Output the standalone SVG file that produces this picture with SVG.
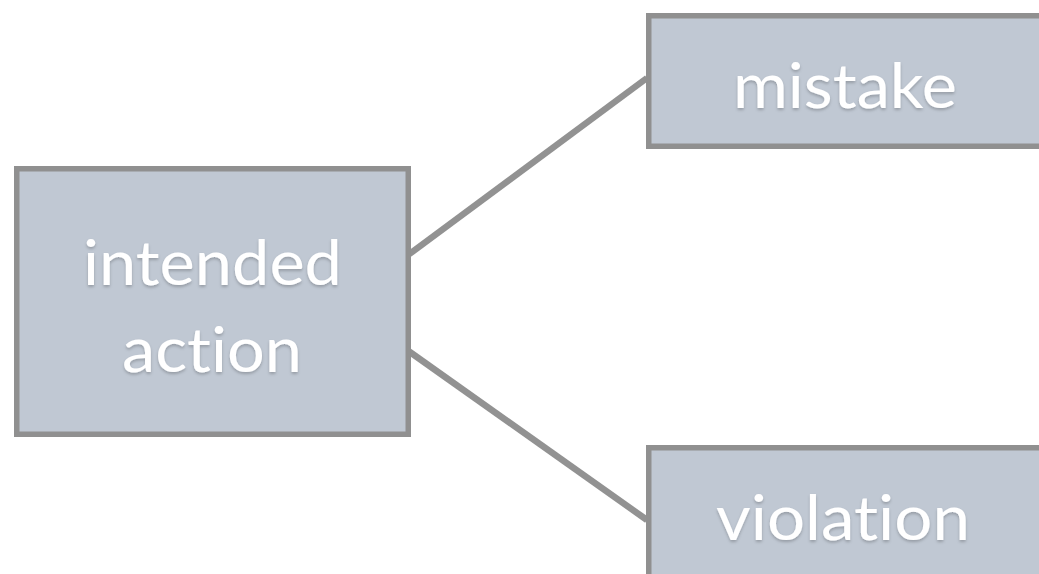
<svg xmlns="http://www.w3.org/2000/svg" width="1039" height="574" viewBox="0 0 1039 574">
  <defs>
    <filter id="ts" x="-10%" y="-20%" width="120%" height="150%">
      <feDropShadow dx="0" dy="2" stdDeviation="1.5" flood-color="#000" flood-opacity="0.22"/>
    </filter>
  </defs>
  <style>
    .box { fill: #c0c8d3; stroke: #909090; stroke-width: 5.5; }
    .lbl { font-family: Lato, "Open Sans", sans-serif; font-size: 62px; fill: #ffffff; text-anchor: middle; filter: url(#ts); font-variant-ligatures: none; font-feature-settings: "liga" 0, "clig" 0; }
    .conn { stroke: #929292; stroke-width: 6.5; fill: none; }
  </style>
  <rect x="0" y="0" width="1039" height="574" fill="#ffffff"/>
  <g id="connectors">
    <line class="conn" x1="408" y1="255" x2="647" y2="78"/>
    <line class="conn" x1="407" y1="350" x2="647" y2="520"/>
  </g>
  <g id="intended-action">
    <rect class="box" x="16.75" y="168.75" width="391.5" height="265.5"/>
    <text class="lbl" x="212.5" y="285" textLength="259" lengthAdjust="spacingAndGlyphs">intended</text>
    <text class="lbl" x="212" y="372" textLength="180" lengthAdjust="spacingAndGlyphs">action</text>
  </g>
  <g id="mistake">
    <rect class="box" x="648.75" y="15.75" width="400" height="130.5"/>
    <text class="lbl" x="845" y="108" textLength="224" lengthAdjust="spacingAndGlyphs">mistake</text>
  </g>
  <g id="violation">
    <rect class="box" x="648.75" y="447.75" width="400" height="140"/>
    <text class="lbl" x="843" y="540" textLength="254" lengthAdjust="spacingAndGlyphs">violation</text>
  </g>
</svg>
